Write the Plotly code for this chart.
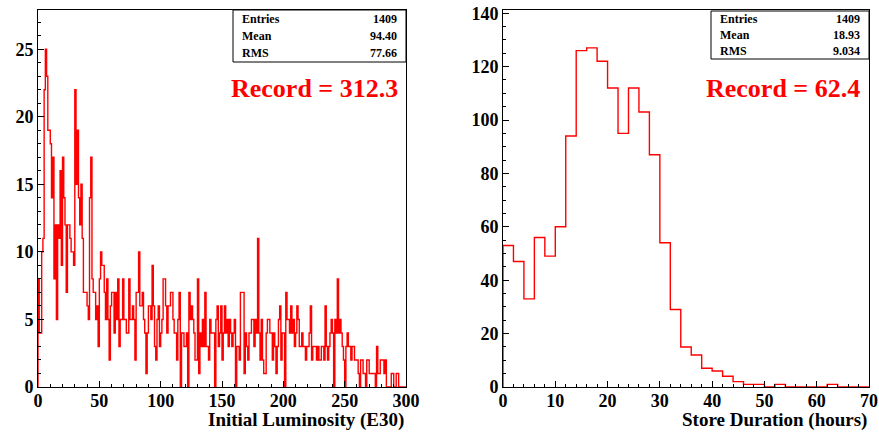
import numpy as np
import plotly.graph_objects as go

# ---------------- data ----------------
lumi_range = (0, 300)            # Initial Luminosity (E30), 1 unit per bin
lumi_counts = [
    8, 4, 4, 10, 11, 22, 25, 23, 19, 19,
    18, 14, 17, 8, 12, 5, 12, 11, 16, 9,
    17, 14, 12, 7, 12, 12, 11, 10, 10, 9,
    22, 15, 19, 14, 12, 15, 11, 7, 7, 7,
    6, 5, 14, 17, 8, 7, 7, 5, 6, 3,
    8, 10, 9, 9, 7, 5, 8, 5, 2, 6,
    7, 7, 4, 7, 5, 8, 3, 5, 5, 8,
    5, 5, 4, 4, 8, 5, 5, 6, 5, 2,
    7, 7, 10, 6, 6, 7, 5, 4, 1, 4,
    6, 6, 5, 9, 6, 3, 2, 5, 6, 3,
    4, 5, 8, 8, 6, 4, 6, 6, 7, 7,
    5, 4, 4, 2, 5, 7, 0, 4, 4, 3,
    3, 4, 0, 7, 5, 6, 5, 4, 2, 2,
    8, 1, 4, 3, 5, 3, 7, 3, 3, 2,
    5, 4, 4, 4, 0, 5, 6, 3, 4, 6,
    2, 4, 6, 4, 5, 3, 5, 4, 3, 4,
    5, 0, 3, 3, 2, 7, 7, 7, 1, 4,
    3, 2, 4, 4, 5, 5, 3, 5, 4, 11,
    4, 2, 5, 2, 1, 1, 4, 5, 5, 4,
    4, 2, 4, 3, 1, 3, 5, 6, 2, 4,
    4, 0, 7, 5, 5, 4, 6, 4, 5, 3,
    4, 6, 5, 3, 3, 4, 3, 3, 2, 3,
    3, 4, 6, 2, 3, 3, 3, 2, 3, 2,
    2, 3, 3, 2, 6, 3, 2, 3, 4, 5,
    4, 0, 5, 4, 8, 4, 5, 4, 3, 2,
    0, 3, 4, 3, 3, 2, 3, 3, 2, 2,
    2, 1, 0, 2, 2, 1, 1, 0, 2, 2,
    1, 1, 1, 1, 1, 0, 3, 1, 1, 2,
    2, 2, 1, 2, 0, 0, 0, 0, 1, 1,
    0, 0, 1, 1, 0, 0, 0, 0, 0, 0,
]

dur_range = (0, 70)              # Store Duration (hours), 2 h per bin
dur_counts = [53, 47, 33, 56, 49, 60, 94, 126, 127, 122,
              112, 95, 112, 103, 87, 54, 29, 15, 12, 7,
              6, 4, 2, 1, 1, 0, 1, 0, 0, 0,
              0, 1, 0, 0, 0]

lumi_stats = [("Entries", "1409"), ("Mean", "94.40"), ("RMS", "77.66")]
dur_stats = [("Entries", "1409"), ("Mean", "18.93"), ("RMS", "9.034")]
lumi_record = "Record = 312.3"
dur_record = "Record = 62.4"
lumi_title = "Initial Luminosity (E30)"
dur_title = "Store Duration (hours)"

# ---------------- helpers ----------------
W, H = 879, 432
FONT = "Liberation Serif"


def px(x):
    return x / W


def py(y):
    return 1 - y / H


def step_xy(rng, counts):
    edges = np.linspace(rng[0], rng[1], len(counts) + 1)
    xs = [edges[0]] + list(edges)
    ys = [0] + list(counts) + [counts[-1]]
    xs.append(edges[-1])
    ys.append(0)
    return xs, ys


fig = go.Figure()

lx, ly = step_xy(lumi_range, lumi_counts)
fig.add_trace(go.Scatter(x=lx, y=ly, mode="lines", xaxis="x", yaxis="y",
                         line=dict(color="#ff0000", width=1.4, shape="hv"),
                         hoverinfo="skip", showlegend=False))
dx, dy = step_xy(dur_range, dur_counts)
fig.add_trace(go.Scatter(x=dx, y=dy, mode="lines", xaxis="x2", yaxis="y2",
                         line=dict(color="#ff0000", width=1.4, shape="hv"),
                         hoverinfo="skip", showlegend=False))

tickfont = dict(family=FONT, size=18, color="black", weight="bold")


def axis(domain, rng, dtick, minor, anchor, standoff, ticklen=6):
    return dict(domain=domain, range=list(rng), anchor=anchor,
                tickmode="linear", tick0=0, dtick=dtick,
                ticks="inside", ticklen=ticklen, tickwidth=1, tickcolor="black",
                minor=dict(ticks="inside", dtick=minor, ticklen=3,
                           tickwidth=1, tickcolor="black"),
                showline=True, mirror=True, linecolor="black", linewidth=1,
                showgrid=False, zeroline=False, tickfont=tickfont,
                ticklabelstandoff=standoff,
                automargin=False, fixedrange=True)


ydom = [py(387), py(10)]
layout = dict(
    width=W, height=H, margin=dict(l=0, r=0, t=0, b=0),
    paper_bgcolor="white", plot_bgcolor="white", showlegend=False,
    xaxis=axis([px(38), px(406)], lumi_range, 50, 10, "y", -3),
    yaxis=axis(ydom, (0, 27.9), 5, 1, "x", 0),
    xaxis2=axis([px(503), px(869)], dur_range, 10, 2, "y2", -3),
    yaxis2=axis(ydom, (0, 141.2), 20, 5, "x2", 0),
)
fig.update_layout(**layout)

shapes = []
annotations = []


def stats_box(x0, x1, y0, y1, rows):
    shapes.append(dict(type="rect", xref="paper", yref="paper",
                       x0=px(x0), x1=px(x1), y0=py(y1), y1=py(y0),
                       line=dict(color="black", width=1), fillcolor="white",
                       layer="above"))
    row_h = (y1 - y0) / len(rows)
    for i, (k, v) in enumerate(rows):
        yc = y0 + row_h * (i + 0.5)
        annotations.append(dict(text=k, xref="paper", yref="paper",
                                x=px(x0 + 7), y=py(yc), xanchor="left",
                                yanchor="middle", showarrow=False,
                                font=dict(family=FONT, size=12, color="black",
                                          weight="bold")))
        annotations.append(dict(text=v, xref="paper", yref="paper",
                                x=px(x1 - 7), y=py(yc), xanchor="right",
                                yanchor="middle", showarrow=False,
                                font=dict(family=FONT, size=12, color="black",
                                          weight="bold")))


stats_box(233, 406, 10, 62, lumi_stats)
stats_box(711, 869, 11, 59, dur_stats)

for txt, xr in ((lumi_record, 400), (dur_record, 862)):
    annotations.append(dict(text=txt, xref="paper", yref="paper",
                            x=px(xr), y=py(88), xanchor="right",
                            yanchor="middle", showarrow=False,
                            font=dict(family=FONT, size=26, color="#ff0000",
                                      weight="bold")))

for txt, xr in ((lumi_title, 406), (dur_title, 869)):
    annotations.append(dict(text=txt, xref="paper", yref="paper",
                            x=px(xr), y=py(420), xanchor="right",
                            yanchor="middle", showarrow=False,
                            font=dict(family=FONT, size=19, color="black",
                                      weight="bold")))

fig.update_layout(shapes=shapes, annotations=annotations)
fig.write_html("out.html",
               config={"displayModeBar": False, "staticPlot": True},
               post_script="document.body.style.margin='0px';"
                           "document.body.style.padding='0px';")
